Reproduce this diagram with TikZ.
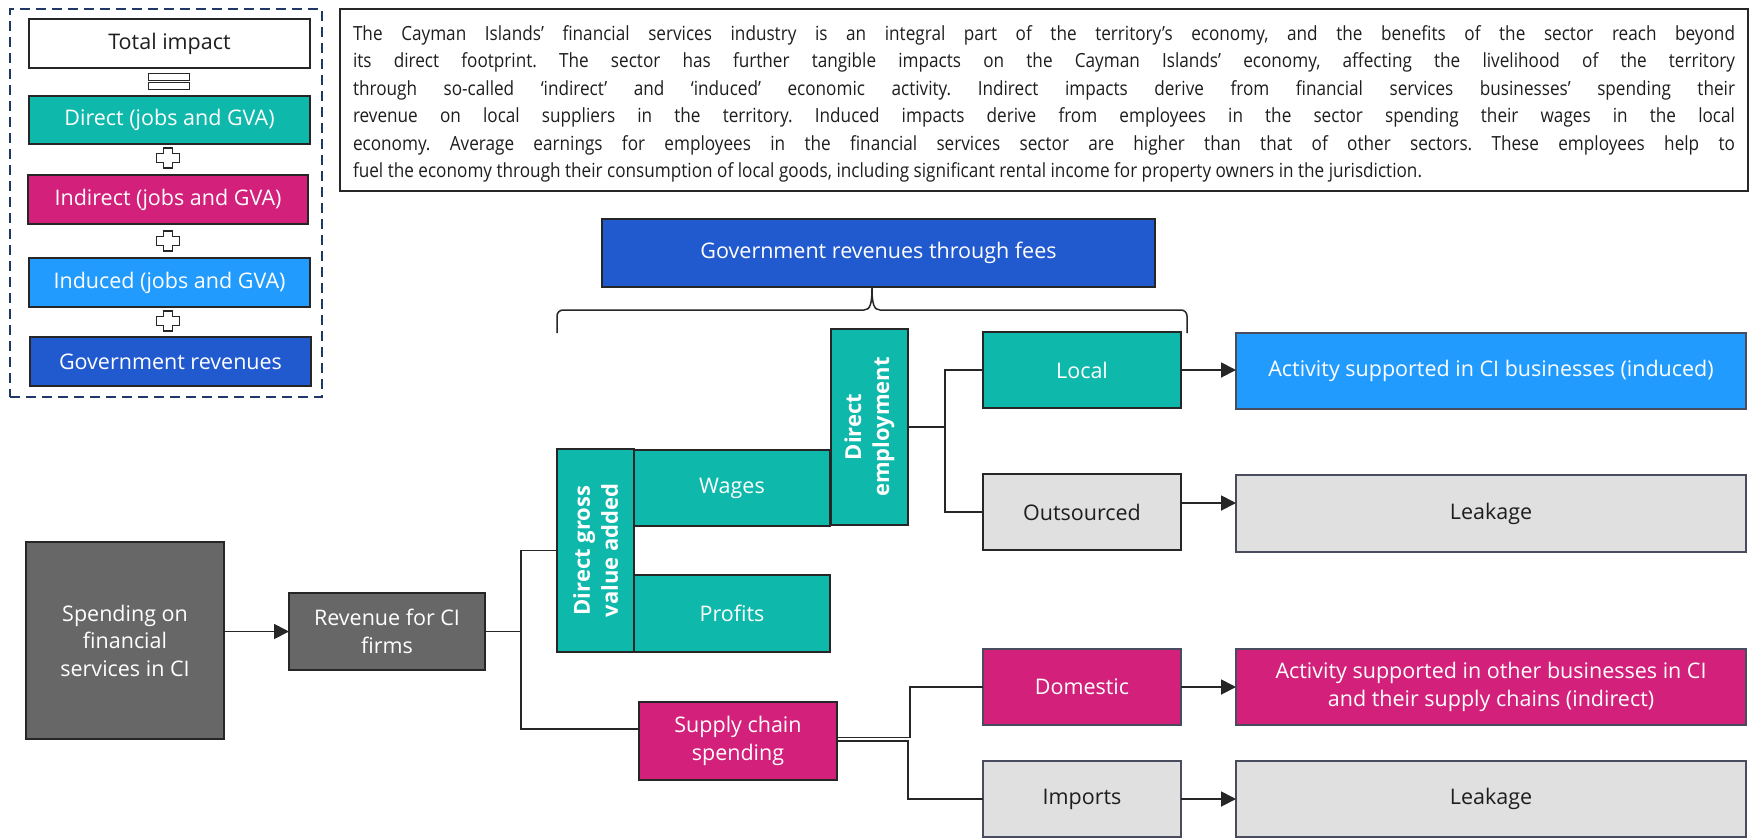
\documentclass[tikz,border=0pt]{standalone}
\usepackage{fontspec}
\setmainfont{Open Sans}
\newfontfamily\parafont[FakeStretch=0.88]{Open Sans}
\usetikzlibrary{arrows.meta}
\definecolor{tealc}{RGB}{14,184,170}
\definecolor{magc}{RGB}{210,32,123}
\definecolor{indc}{RGB}{34,155,255}
\definecolor{govc}{RGB}{33,89,206}
\definecolor{grayc}{RGB}{103,103,103}
\definecolor{lgrayc}{RGB}{224,224,224}
\definecolor{bordk}{RGB}{38,38,38}
\definecolor{bordb}{RGB}{72,76,94}
\definecolor{navyc}{RGB}{31,56,100}
\definecolor{textc}{RGB}{30,30,30}
\begin{document}
\begin{tikzpicture}[x=1pt,y=-1pt,
  sz/.style 2 args={minimum width=#1pt, minimum height=#2pt},
  box/.style={draw=bordk, line width=2.5pt, inner sep=2pt, outer sep=0pt, align=center,
    font=\fontsize{21.5}{27.5}\selectfont, text=white},
  tealbox/.style={box, fill=tealc},
  magbox/.style={box, fill=magc},
  grbox/.style={box, fill=grayc},
  lgbox/.style={box, fill=lgrayc, text=textc},
  rotlab/.style={box, fill=tealc, font=\bfseries\fontsize{22}{28}\selectfont},
  conn/.style={draw=bordk, line width=1.8pt},
  arr/.style={conn, -{Triangle[length=15pt,width=15pt]}},
  plussign/.pic={\draw[bordk, line width=1.3pt, fill=white]
     (-4.5,-10) -- (4.5,-10) -- (4.5,-4.5) -- (11.5,-4.5) -- (11.5,4.5) -- (4.5,4.5) -- (4.5,10)
     -- (-4.5,10) -- (-4.5,4.5) -- (-11.5,4.5) -- (-11.5,-4.5) -- (-4.5,-4.5) -- cycle;}
]
\useasboundingbox[fill=white] (0,0) rectangle (1755,839);

% legend
\node[draw=navyc, line width=2.5pt, dash pattern=on 10pt off 6pt, sz={312}{388}, inner sep=0] (legend) at (166,203) {};
\node[box, fill=white, text=textc, sz={281}{49}] (total) at (169.5,43.5) {Total impact};
\node[draw=bordk, line width=1pt, fill=white, sz={41}{7}, inner sep=0] (eqa) at (168.5,76.5) {};
\node[draw=bordk, line width=1pt, fill=white, sz={41}{7}, inner sep=0] (eqb) at (168.5,85.5) {};
\node[tealbox, sz={281}{48}] (ldirect) at (169.5,120) {Direct (jobs and GVA)};
\pic at (168,158) {plussign};
\node[magbox, sz={280}{49}] (lindirect) at (168,199.5) {Indirect (jobs and GVA)};
\pic at (168,241) {plussign};
\node[box, fill=indc, sz={281}{49}] (linduced) at (169.5,282.5) {Induced (jobs and GVA)};
\pic at (168,321) {plussign};
\node[box, fill=govc, sz={281}{49}] (lgov) at (170.5,361.5) {Government revenues};

% paragraph
\node[draw=bordk, line width=2pt, fill=white, sz={1408}{182}, inner sep=0] (para) at (1044,100) {};
\node[inner sep=0, text width=1382pt, align=justify,
  font=\parafont\frenchspacing\fontsize{19.5}{27.5}\selectfont, text=textc] (paratext) at ([yshift=-4pt]para.center)
{The Cayman Islands’ financial services industry is an integral part of the territory’s economy, and the benefits of the sector reach beyond\linebreak
its direct footprint. The sector has further tangible impacts on the Cayman Islands’ economy, affecting the livelihood of the territory\linebreak
through so-called ‘indirect’ and ‘induced’ economic activity. Indirect impacts derive from financial services businesses’ spending their\linebreak
revenue on local suppliers in the territory. Induced impacts derive from employees in the sector spending their wages in the local\linebreak
economy. Average earnings for employees in the financial services sector are higher than that of other sectors. These employees help to\linebreak
fuel the economy through their consumption of local goods, including significant rental income for property owners in the jurisdiction.};

% government fees and brace
\node[box, fill=govc, sz={553}{68}] (govfees) at (878.5,253) {Government revenues through fees};
\coordinate (bl) at (557,333);
\coordinate (br) at (1187,333);
\coordinate (bt) at (872,288);
\draw[bordk, line width=1.5pt, rounded corners=6pt] (bl) -- (557,310) -- (864,310);
\draw[bordk, line width=1.5pt] (864,310) .. controls (870,310) and (872,304) .. (bt);
\draw[bordk, line width=1.5pt] (bt) .. controls (872,304) and (874,310) .. (880,310);
\draw[bordk, line width=1.5pt, rounded corners=6pt] (880,310) -- (1187,310) -- (br);

% main flow
\node[grbox, sz={198}{197}] (spend) at (125,640.5) {Spending on\\financial\\services in CI};
\node[grbox, sz={196}{77}] (rev) at (387,631.5) {Revenue for CI\\firms};
\node[rotlab, sz={203}{77}, rotate=90] (dgva) at (595.5,550.5) {Direct gross\\value added};
\node[tealbox, sz={196}{76}] (wages) at (732,488) {Wages};
\node[tealbox, sz={196}{77}] (profits) at (732,613.5) {Profits};
\node[rotlab, sz={196}{77}, rotate=90] (de) at (869.5,427) {Direct\\employment};
\node[tealbox, sz={198}{76}] (local) at (1082,370) {Local};
\node[lgbox, sz={198}{76}] (outs) at (1082,512) {Outsourced};
\node[box, draw=bordb, fill=indc, sz={510}{76}] (actind) at (1491,371) {Activity supported in CI businesses (induced)};
\node[lgbox, draw=bordb, sz={510}{77}] (leak1) at (1491,513.5) {Leakage};
\node[magbox, sz={198}{78}] (supply) at (738,741) {Supply chain\\spending};
\node[magbox, draw=bordb, sz={198}{76}] (dom) at (1082,687) {Domestic};
\node[lgbox, draw=bordb, sz={198}{76}] (imp) at (1082,799) {Imports};
\node[magbox, draw=bordb, sz={510}{76}] (actindir) at (1491,687) {Activity supported in other businesses in CI\\and their supply chains (indirect)};
\node[lgbox, draw=bordb, sz={510}{76}] (leak2) at (1491,799) {Leakage};

% connectors
\draw[arr] (spend.east |- rev.west) -- (rev.west);
\draw[conn] (rev.east) -- (521,631.5);
\draw[conn] (dgva.north) -- (521,550.5) -- (521,729) -- ([yshift=12pt]supply.west);
\draw[conn] (de.south) -- (945,427);
\draw[conn] (local.west) -- (945,370) -- (945,512) -- (outs.west);
\draw[conn, line width=1.5pt] ([yshift=3.5pt]supply.east) -- (910,737.5) -- (910,687) -- (dom.west);
\draw[conn, line width=1.5pt] (supply.east) -- (908,741) -- (908,799) -- (imp.west);
\draw[arr] (local.east) -- (local.east -| actind.west);
\draw[arr] ([yshift=9pt]outs.east) -- ([yshift=9pt]outs.east -| leak1.west);
\draw[arr] (dom.east) -- (actindir.west);
\draw[arr] (imp.east) -- (leak2.west);
\end{tikzpicture}
\end{document}
